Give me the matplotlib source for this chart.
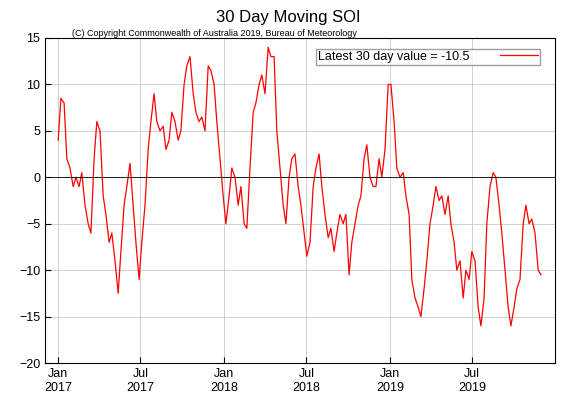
import matplotlib
matplotlib.use("Agg")
import matplotlib.pyplot as plt
import datetime as dt

START = dt.date(2017, 1, 1)
STEP_DAYS = 6.6
SOI = [4, 8.5, 8, 2, 1, -1, 0, -1, 0.5, -3, -5, -6, 2, 6, 5, -2, -4, -7, -6, -9,
       -12.5, -8, -3, -1, 1.5, -3, -7, -11, -7, -3, 3, 6, 9, 6, 5, 5.5, 3, 4, 7, 6,
       4, 5, 10, 12, 13, 9, 7, 6, 6.5, 5, 12, 11.5, 10, 6, 2, -2, -5, -2, 1, 0,
       -3, -1, -5, -5.5, 1, 7, 8, 10, 11, 9, 14, 13, 13, 5, 1, -3, -5, 0, 2, 2.5,
       -1, -3, -6, -8.5, -7, -1, 1, 2.5, -1, -4, -6.5, -5.5, -8, -6, -4, -5, -4, -10.5, -7, -5,
       -3, -2, 2, 3.5, 0, -1, -1, 2, 0, 3, 10, 10, 6, 1, 0, 0.5, -2, -4, -11, -13,
       -14, -15, -12, -9, -5, -3, -1, -2.5, -2, -4, -2, -5, -7, -10, -9, -13, -10, -11, -8, -9,
       -14, -16, -13, -5, -1, 0.5, 0, -3, -6, -10, -14, -16, -14, -12, -11, -5, -3, -5, -4.5, -6,
       -10, -10.5]
LATEST = -10.5
TICKS = [dt.date(2017, 1, 1), dt.date(2017, 7, 1), dt.date(2018, 1, 1),
         dt.date(2018, 7, 1), dt.date(2019, 1, 1), dt.date(2019, 7, 1)]
TICK_LABELS = ["Jan\n2017", "Jul\n2017", "Jan\n2018", "Jul\n2018", "Jan\n2019", "Jul\n2019"]

dates = [START + dt.timedelta(days=i * STEP_DAYS) for i in range(len(SOI))]

plt.rcParams["font.family"] = ["Liberation Sans", "DejaVu Sans"]
fig = plt.figure(figsize=(5.76, 4.03), dpi=100)
ax = fig.add_axes([45 / 576, 40 / 403, 510 / 576, 325 / 403])

ax.plot(dates, SOI, color="red", lw=0.9,
        label=f"Latest 30 day value = {LATEST}      ")
ax.axhline(0, color="black", lw=0.6)
ax.set_xlim(dt.date(2016, 12, 3), dt.date(2019, 12, 30))
ax.set_ylim(-20, 15)
ax.set_yticks(range(-20, 16, 5))
ax.set_xticks(TICKS)
ax.set_xticklabels(TICK_LABELS, fontsize=9)
ax.tick_params(axis="y", labelsize=9)
ax.tick_params(direction="in", length=4)
ax.grid(True, color="#c0c0c0", lw=0.5)
ax.legend(loc="upper right", fontsize=9, frameon=True, fancybox=False, markerfirst=False,
          edgecolor="#888888", handlelength=3, borderaxespad=0.6, borderpad=0.15,
          bbox_to_anchor=(0.985, 0.99))
fig.text(0.5, 0.945, "30 Day Moving SOI", ha="center", fontsize=12)
fig.text(0.125, 0.91, "(C) Copyright Commonwealth of Australia 2019, Bureau of Meteorology", fontsize=6.5)
fig.savefig("out.png", dpi=100)
